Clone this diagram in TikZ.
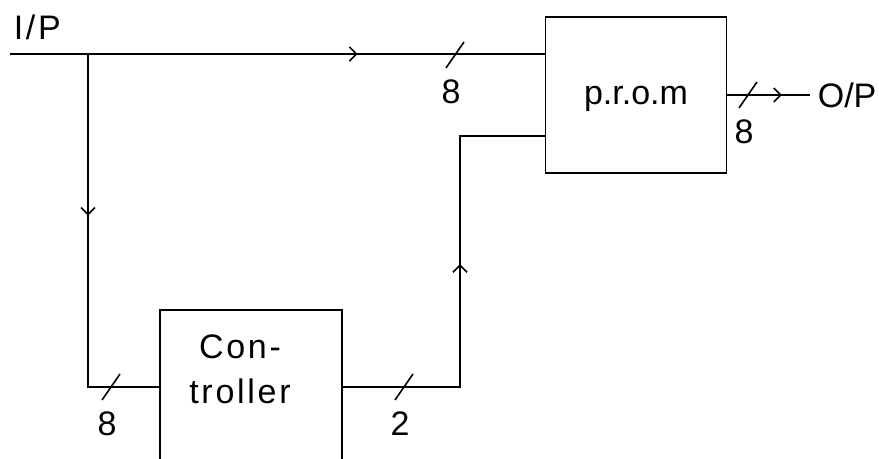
\documentclass[tikz,border=0pt]{standalone}
\usepackage{fontspec}
\setmainfont[LetterSpace=8]{Liberation Sans}
\newfontfamily\promfont{Liberation Sans}
\usetikzlibrary{arrows.meta,positioning,calc,decorations.markings}
\tikzset{
  blk/.style={draw, minimum width=90.5pt, minimum height=78pt, inner sep=0pt},
  midarrow/.style={postaction={decorate}, decoration={markings, mark=at position #1 with {\arrow{>}}}},
  pics/buswidth/.style={code={\draw (-9,13) -- (9,-13); \node at (-4,37) {#1};}}
}

\begin{document}
\begin{tikzpicture}[x=0.5pt, y=-0.5pt, line width=0.8pt, >={Straight Barb[length=3.5pt,width=7pt]}, every node/.style={font=\fontsize{17}{22.5}\selectfont}]
  \clip (0,0) rectangle (879,459);
  % blocks
  \node[blk, text depth=-2pt] (prom) at (636,95) {\promfont p.r.o.m};
  \node[blk, minimum width=91pt, minimum height=77pt] (ctrl) at (251,387) {};
  \node[align=center] (ctrltxt) at (240,369) {Con-\\troller};
  % terminals
  \coordinate (in) at (10,54);
  \coordinate (split) at (88,54);
  \coordinate (riser) at (460,136);
  \coordinate (romin) at (prom.west |- riser);
  \coordinate (out) at (810,95);
  \node[anchor=west, inner sep=0pt] (iplabel) at (13,27) {I/P};
  \node[anchor=west, inner sep=0pt] (oplabel) at (817,95) {\promfont O/P};
  % connectors
  \draw[midarrow=0.65] (in) -- (in -| prom.west);
  \draw[midarrow=0.40] (split) |- (ctrl.west);
  \draw[midarrow=0.53] (ctrl.east) -| (riser) -- (romin);
  \draw[midarrow=0.66] (prom.east) -- (out);
  % bus widths
  \pic at (455,55) {buswidth=8};
  \pic at (748,95) {buswidth=8};
  \pic at (111,387) {buswidth=8};
  \pic at (404,387) {buswidth=2};
\end{tikzpicture}
\end{document}
